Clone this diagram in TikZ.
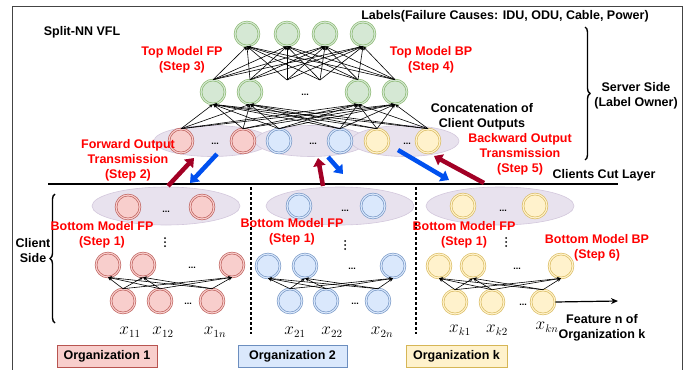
\documentclass[tikz,border=0pt]{standalone}
\usepackage{fontspec}
\setmainfont{Liberation Sans}
\usetikzlibrary{arrows.meta,decorations.pathreplacing,shapes.geometric}
\definecolor{gfill}{HTML}{D5E8D4}\definecolor{gline}{HTML}{82B366}
\definecolor{rfill}{HTML}{F8CECC}\definecolor{rline}{HTML}{B85450}
\definecolor{bfill}{HTML}{DAE8FC}\definecolor{bline}{HTML}{6C8EBF}
\definecolor{yfill}{HTML}{FFF2CC}\definecolor{yline}{HTML}{D6B656}
\definecolor{efill}{HTML}{E8E2EE}\definecolor{eline}{HTML}{D3C8DC}
\definecolor{fwdc}{HTML}{A20025}\definecolor{bwdc}{HTML}{0050EF}
\definecolor{framec}{HTML}{444444}
\begin{document}
\begin{tikzpicture}[x=1pt,y=-1pt,
  nd/.style={circle,minimum size=24pt,inner sep=0pt,line width=0.6pt,double distance=1.2pt},
  gn/.style={nd,draw=gline,double=gfill,fill=gfill},
  rn/.style={nd,draw=rline,double=rfill,fill=rfill},
  bn/.style={nd,draw=bline,double=bfill,fill=bfill},
  yn/.style={nd,draw=yline,double=yfill,fill=yfill},
  grp/.style={ellipse,draw=eline,fill=efill,line width=0.6pt,inner sep=0pt},
  dts/.style={font=\fontsize{9}{9}\selectfont\bfseries},
  net/.style={line width=0.6pt,-{Stealth[length=4pt,width=3.2pt]}},
  big/.style={line width=4.5pt,-{Triangle[length=8pt,width=12pt]}},
  lbl/.style={font=\fontsize{12.5}{15}\selectfont\bfseries,align=center,inner sep=0pt},
  rlbl/.style={lbl,text=red},
  xl/.style={font=\fontsize{16}{16}\selectfont,inner sep=0pt},
  org/.style={draw,line width=0.8pt,minimum width=100pt,minimum height=22pt,inner sep=0pt,font=\fontsize{12.5}{15}\selectfont\bfseries},
  sep/.style={line width=2.5pt,dash pattern=on 2.5pt off 2.5pt},
  brc/.style={decorate,decoration={brace,amplitude=5pt},line width=1.4pt}
]
\useasboundingbox (0,0) rectangle (700,369);
\begin{scope}
\clip (0,0) rectangle (700,369);
\draw[framec,line width=1pt] (12,7) rectangle (682,390);
\end{scope}

% group ellipses
\node[grp,minimum width=116pt,minimum height=31pt] (E1) at (212,141) {};
\node[grp,minimum width=112pt,minimum height=31pt] (E2) at (311,141) {};
\node[grp,minimum width=108pt,minimum height=31pt] (E3) at (405,141) {};
\node[grp,minimum width=148pt,minimum height=38pt] (ER) at (166,206) {};
\node[grp,minimum width=148pt,minimum height=38pt] (EB) at (340,206) {};
\node[grp,minimum width=148pt,minimum height=38pt] (EY) at (500,206) {};

% top network
\node[gn] (T1) at (247,34) {};
\node[gn] (T2) at (287,34) {};
\node[gn] (T3) at (325,34) {};
\node[gn] (T4) at (363,34) {};
\node[gn] (H1) at (213,92) {};
\node[gn] (H2) at (250,92) {};
\node[dts] (Hd) at (305,95) {...};
\node[gn] (H3) at (358,92) {};
\node[gn] (H4) at (395,92) {};
\coordinate (D1) at (287,80);
\coordinate (D2) at (320,80);

% concatenation layer
\node[rn] (C1) at (181,141) {};
\node[rn] (C2) at (243,141) {};
\node[bn] (C3) at (279,141) {};
\node[bn] (C4) at (340,141) {};
\node[yn] (C5) at (377,141) {};
\node[yn] (C6) at (428,141) {};
\node[dts] (Cd1) at (215,144) {...};
\node[dts] (Cd2) at (313,144) {...};
\node[dts] (Cd3) at (407,144) {...};

\foreach \s in {H1,H2,H3,H4} \foreach \t in {T1,T2,T3,T4} \draw[net] (\s.north) -- (\t.south);
\foreach \s in {D1,D2} \foreach \t in {T1,T2,T3,T4} \draw[net] (\s) -- (\t.south);
\foreach \s in {C1,C2,C3,C4,C5,C6} \foreach \t in {H1,H2,H3,H4} \draw[net] (\s.north) -- (\t.south);

% client cut-layer nodes
\node[rn] (RC1) at (128,207) {};
\node[rn] (RC2) at (202,207) {};
\node[dts] (RCd) at (166,212) {...};
\node[bn] (BC1) at (299,206) {};
\node[bn] (BC2) at (373,206) {};
\node[dts] (BCd) at (345,211) {...};
\node[yn] (YC1) at (463,206) {};
\node[yn] (YC2) at (535,206) {};
\node[dts] (YCd) at (503,211) {...};

% vertical dots
\coordinate (V1) at (165,242);
\coordinate (V2) at (345,245);
\coordinate (V3) at (506,242);
\foreach \v in {V1,V2,V3} \foreach \d in {-4,0,4} \fill ([yshift=\d pt]\v) circle (1pt);

% client hidden layers
\node[rn] (RH1) at (108,265) {};
\node[rn] (RH2) at (143,265) {};
\node[dts] (RHd) at (192,268) {...};
\node[rn] (RH3) at (232,265) {};
\node[bn] (BH1) at (268,266) {};
\node[bn] (BH2) at (305,266) {};
\node[dts] (BHd) at (352,269) {...};
\node[bn] (BH3) at (393,266) {};
\node[yn] (YH1) at (439,266) {};
\node[yn] (YH2) at (473,266) {};
\node[dts] (YHd) at (517,269) {...};
\node[yn] (YH3) at (561,266) {};

% client inputs
\node[rn] (RI1) at (123,301) {};
\node[rn] (RI2) at (160,301) {};
\node[dts] (RId) at (188,304) {...};
\node[rn] (RI3) at (212,301) {};
\node[bn] (BI1) at (290,301) {};
\node[bn] (BI2) at (326,301) {};
\node[dts] (BId) at (355,304) {...};
\node[bn] (BI3) at (378,301) {};
\node[yn] (YI1) at (455,302) {};
\node[yn] (YI2) at (492,302) {};
\node[dts] (YId) at (523,305) {...};
\node[yn] (YI3) at (543,302) {};

\foreach \s in {RI1,RI2,RI3} \foreach \t in {RH1,RH2,RH3} \draw[net] (\s.north) -- (\t.south);
\foreach \s in {BI1,BI2,BI3} \foreach \t in {BH1,BH2,BH3} \draw[net] (\s.north) -- (\t.south);
\foreach \s in {YI1,YI2,YI3} \foreach \t in {YH1,YH2,YH3} \draw[net] (\s.north) -- (\t.south);

% input labels
\node[xl] (x11) at (130,332) {$x_{11}$};
\node[xl] (x12) at (163,332) {$x_{12}$};
\node[xl] (x1n) at (215,332) {$x_{1n}$};
\node[xl] (x21) at (295,332) {$x_{21}$};
\node[xl] (x22) at (332,332) {$x_{22}$};
\node[xl] (x2n) at (382,332) {$x_{2n}$};
\node[xl] (xk1) at (460,330) {$x_{k1}$};
\node[xl] (xk2) at (497,330) {$x_{k2}$};
\node[xl] (xkn) at (547,327) {$x_{kn}$};

% feature arrow
\coordinate (FE) at (618,301);
\draw[line width=1.2pt,-{Stealth[length=7pt,width=6pt]}] (YI3.east) -- (FE);
\node[lbl] (feat) at (602,328) {Feature n of\\Organization k};

% cut layer and separators
\coordinate (CutL) at (48,184);
\coordinate (CutR) at (618,184);
\draw[line width=2pt] (CutL) -- (CutR);
\coordinate (S1a) at (251,187); \coordinate (S1b) at (251,334);
\coordinate (S2a) at (416,187); \coordinate (S2b) at (416,334);
\draw[sep] (S1a) -- (S1b);
\draw[sep] (S2a) -- (S2b);
\node[lbl,anchor=center] (cut) at (604,175) {Clients Cut Layer};

% block arrows
\coordinate (A1s) at (168,186); \coordinate (A1e) at (194,158);
\coordinate (A2s) at (217,154); \coordinate (A2e) at (190,183);
\coordinate (A3s) at (323,186); \coordinate (A3e) at (318,158);
\coordinate (A4s) at (328,157); \coordinate (A4e) at (343,174);
\coordinate (A5s) at (398,150); \coordinate (A5e) at (449,180);
\coordinate (A6s) at (484,183); \coordinate (A6e) at (434,156);
\draw[big,fwdc] (A1s) -- (A1e);
\draw[big,bwdc] (A2s) -- (A2e);
\draw[big,fwdc] (A3s) -- (A3e);
\draw[big,bwdc] (A4s) -- (A4e);
\draw[big,bwdc] (A5s) -- (A5e);
\draw[big,fwdc] (A6s) -- (A6e);

% braces
\coordinate (B1a) at (585,27); \coordinate (B1b) at (585,160);
\draw[brc] (B1a) -- (B1b);
\coordinate (B2a) at (55,323); \coordinate (B2b) at (55,194);
\draw[brc] (B2a) -- (B2b);

% org boxes
\node[org,fill=rfill,draw=rline] (O1) at (107,356) {Organization 1};
\node[org,fill=bfill,draw=bline,minimum width=109pt] (O2) at (292.5,356) {Organization 2};
\node[org,fill=yfill,draw=yline,minimum width=101pt] (O3) at (456.5,356) {Organization k};

% texts
\node[lbl] (title) at (82,32) {Split-NN VFL};
\node[lbl] (labels) at (505,16) {Labels(Failure Causes: IDU, ODU, Cable, Power)};
\node[rlbl] (tfp) at (182,59.5) {Top Model FP\\(Step 3)};
\node[rlbl] (tbp) at (431,60) {Top Model BP\\(Step 4)};
\node[lbl] (server) at (636,96) {Server Side\\(Label Owner)};
\node[lbl] (concat) at (482,117) {Concatenation of\\Client Outputs};
\node[rlbl] (fwd) at (128,160) {Forward Output\\Transmission\\(Step 2)};
\node[rlbl] (bwd) at (520,154) {Backward Output\\Transmission\\(Step 5)};
\node[lbl] (client) at (33,251) {Client\\Side};
\node[rlbl] (bfp1) at (102,235) {Bottom Model FP\\(Step 1)};
\node[rlbl] (bfp2) at (292,232) {Bottom Model FP\\(Step 1)};
\node[rlbl] (bfp3) at (464,235) {Bottom Model FP\\(Step 1)};
\node[rlbl] (bbp) at (597,248) {Bottom Model BP\\(Step 6)};
\end{tikzpicture}
\end{document}
